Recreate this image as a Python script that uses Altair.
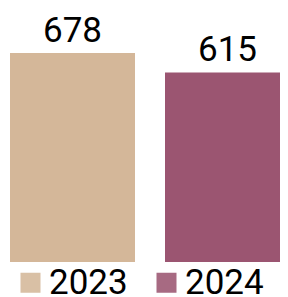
import altair as alt
import pandas as pd

years = ["2023", "2024"]
values = [678, 615]
colors = ["#D4B799", "#9B5571"]

df = pd.DataFrame({"year": years, "value": values})

x = alt.X("year:N", axis=None,
          scale=alt.Scale(range=[0, 284], paddingInner=0.19355, paddingOuter=0.0129))
y = alt.Y("value:Q", axis=None, scale=alt.Scale(domain=[0, 824], nice=False, zero=True))

bars = alt.Chart(df).mark_bar().encode(
    x=x, y=y,
    color=alt.Color("year:N", scale=alt.Scale(domain=years, range=colors),
                    legend=alt.Legend(
                        title=None, orient="none", direction="horizontal",
                        legendX=5, legendY=257, padding=0, offset=0,
                        symbolType="square", symbolSize=400, symbolOpacity=0.88,
                        symbolStrokeWidth=0,
                        labelFont="Roboto", labelFontSize=35, labelColor="#000000",
                        labelOffset=1, columnPadding=21, labelBaseline="middle")),
)

labels = alt.Chart(df).mark_text(
    font="Roboto", fontSize=35, color="#000000", baseline="alphabetic", dy=-11
).encode(x=x, y=y, text="value:Q")

chart = alt.layer(bars, labels).properties(
    width=272, height=254,
    autosize=alt.AutoSizeParams(type="none"),
    padding={"left": 0, "top": 0, "right": 0, "bottom": 35},
).configure_view(stroke=None)

chart.save("out.html", embed_options={"renderer": "svg", "actions": False})
